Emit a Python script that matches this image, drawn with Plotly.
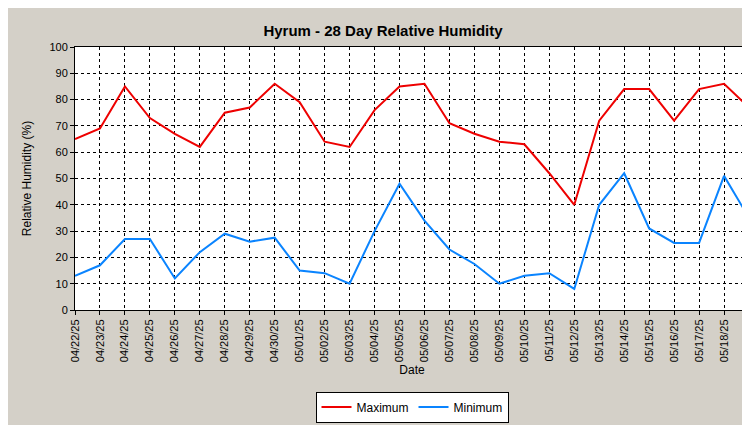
import plotly.graph_objects as go

dates = ['04/22/25', '04/23/25', '04/24/25', '04/25/25', '04/26/25', '04/27/25', '04/28/25',
         '04/29/25', '04/30/25', '05/01/25', '05/02/25', '05/03/25', '05/04/25', '05/05/25',
         '05/06/25', '05/07/25', '05/08/25', '05/09/25', '05/10/25', '05/11/25', '05/12/25',
         '05/13/25', '05/14/25', '05/15/25', '05/16/25', '05/17/25', '05/18/25', '05/19/25']
maximum = [65, 69, 85, 73, 67, 62, 75, 77, 86, 79, 64, 62, 76, 85,
           86, 71, 67, 64, 63, 52, 40, 72, 84, 84, 72, 84, 86, 77]
minimum = [13, 17, 27, 27, 12, 22, 29, 26, 27.5, 15, 14, 10, 30, 48,
           34, 23, 17.5, 10, 13, 14, 8, 40, 52, 31, 25.5, 25.5, 51, 35]

fig = go.Figure()
fig.add_trace(go.Scatter(x=dates, y=maximum, name='Maximum', mode='lines',
                         line=dict(color='#ee0000', width=2)))
fig.add_trace(go.Scatter(x=dates, y=minimum, name='Minimum', mode='lines',
                         line=dict(color='#0a84ff', width=2)))

grid = dict(showgrid=True, gridcolor='black', griddash='3px,3px', gridwidth=1,
            showline=True, linecolor='black', mirror=True, ticks='outside',
            ticklen=4, tickcolor='black', zeroline=False, automargin=False)
fig.update_layout(
    width=750, height=425,
    paper_bgcolor='#d4d0c8', plot_bgcolor='white',
    font=dict(family='Liberation Sans, Arial', size=12, color='black'),
    title=dict(text='<b>Hyrum - 28 Day Relative Humidity</b>', x=0.5, y=0.96,
               xanchor='center', font=dict(size=15)),
    margin=dict(l=67, r=9, t=39, b=123),
    showlegend=True,
    legend=dict(orientation='h', x=0.5, xanchor='center', y=-0.31, yanchor='top',
                bgcolor='white', bordercolor='black', borderwidth=1,
                font=dict(size=12)),
)
fig.update_xaxes(title=dict(text='Date', font=dict(size=12), standoff=4),
                 tickangle=-90, tickfont=dict(size=11), range=[0, 27], **grid)
fig.update_yaxes(title=dict(text='Relative Humidity (%)', font=dict(size=12)),
                 range=[0, 100], dtick=10, tickfont=dict(size=11), **grid)

fig.write_html('out.html')
